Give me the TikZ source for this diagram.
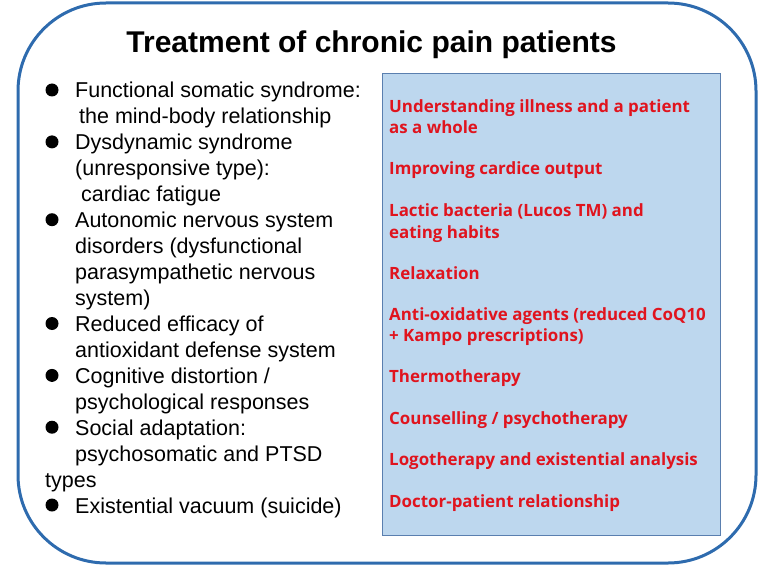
\documentclass[tikz,border=0pt]{standalone}
\usepackage{fontspec}
\setmainfont{Liberation Sans}
\newfontfamily\redfont{Open Sans}
\definecolor{framecol}{HTML}{2E6BAE}
\definecolor{boxfill}{HTML}{BDD7EE}
\definecolor{boxline}{HTML}{5A7FAF}
\definecolor{redtxt}{HTML}{E0141E}
\tikzset{
  frame/.style={draw=framecol, line width=3pt, rounded corners=88pt},
  titletext/.style={anchor=base, inner sep=0pt, font=\fontsize{30}{36}\selectfont\bfseries},
  leftline/.style={anchor=base west, inner sep=0pt, font=\fontsize{21.5}{26}\selectfont, text=black},
  bulletdot/.style={circle, fill=black, minimum size=13pt, inner sep=0pt},
  treatbox/.style={draw=boxline, line width=0.8pt, fill=boxfill, anchor=north west, inner sep=0pt, minimum width=338pt, minimum height=462pt},
  redline/.style={anchor=base west, inner sep=0pt, font=\redfont\bfseries\fontsize{16.9}{20}\selectfont, text=redtxt}
}
\begin{document}
\begin{tikzpicture}[x=1pt,y=-1pt]
\useasboundingbox (0,0) rectangle (767,569);
\draw[frame] (18,3) rectangle (756,563);
\node[titletext] (title) at (371.5,53) {Treatment of chronic pain patients};
% left list
\node[bulletdot] (b1) at (52,90) {};
\node[leftline] (l0) at (75,98) {Functional somatic syndrome:};
\node[leftline] (l1) at (79,123.9) {the mind-body relationship};
\node[bulletdot] (b2) at (52,141.9) {};
\node[leftline] (l2) at (75,149.9) {Dysdynamic syndrome};
\node[leftline] (l3) at (75,175.8) {(unresponsive type):};
\node[leftline] (l4) at (81,201.8) {cardiac fatigue};
\node[bulletdot] (b3) at (52,219.7) {};
\node[leftline] (l5) at (75,227.7) {Autonomic nervous system};
\node[leftline] (l6) at (75,253.6) {disorders (dysfunctional};
\node[leftline] (l7) at (75,279.6) {parasympathetic nervous};
\node[leftline] (l8) at (75,305.5) {system)};
\node[bulletdot] (b4) at (52,323.5) {};
\node[leftline] (l9) at (75,331.5) {Reduced efficacy of};
\node[leftline] (l10) at (75,357.4) {antioxidant defense system};
\node[bulletdot] (b5) at (52,375.4) {};
\node[leftline] (l11) at (75,383.3) {Cognitive distortion /};
\node[leftline] (l12) at (75,409.3) {psychological responses};
\node[bulletdot] (b6) at (52,427.2) {};
\node[leftline] (l13) at (75,435.2) {Social adaptation:};
\node[leftline] (l14) at (75,461.2) {psychosomatic and PTSD};
\node[leftline] (l15) at (45,487.1) {types};
\node[bulletdot] (b7) at (52,505) {};
\node[leftline] (l16) at (75,513) {Existential vacuum (suicide)};
% right box
\node[treatbox] (box) at (381.5,73) {};
\node[redline] (r1) at (389,113) {Understanding illness and a patient};
\node[redline] (r1b) at (389,134) {as a whole};
\node[redline] (r2) at (389,175) {Improving cardice output};
\node[redline] (r3) at (389,217) {Lactic bacteria (Lucos TM) and};
\node[redline] (r3b) at (389,238) {eating habits};
\node[redline] (r4) at (389,279) {Relaxation};
\node[redline] (r5) at (389,320.5) {Anti-oxidative agents (reduced CoQ10};
\node[redline] (r5b) at (389,341.5) {+ Kampo prescriptions)};
\node[redline] (r6) at (389,382.5) {Thermotherapy};
\node[redline] (r7) at (389,424) {Counselling / psychotherapy};
\node[redline] (r8) at (389,465.5) {Logotherapy and existential analysis};
\node[redline] (r9) at (389,507) {Doctor-patient relationship};
\end{tikzpicture}
\end{document}
